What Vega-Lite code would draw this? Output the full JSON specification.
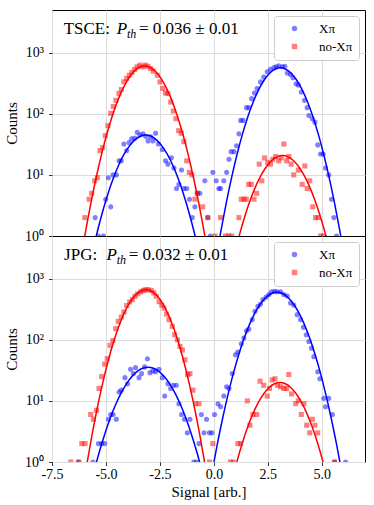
{
  "$schema": "https://vega.github.io/schema/vega-lite/v6.json",
  "padding": {"left": 4, "right": 10, "top": 9, "bottom": 2},
  "spacing": 0,
  "bounds": "flush",
  "config": {
    "font": "Liberation Serif",
    "view": {"stroke": "#000000", "strokeWidth": 1},
    "axis": {"gridColor": "#dcdcdc", "gridWidth": 1, "tickColor": "#000000", "tickSize": 3.5, "tickWidth": 0.8, "domain": false, "labelFont": "Liberation Serif", "labelFontSize": 14, "labelColor": "#000000", "titleFont": "Liberation Serif", "titleFontSize": 15, "titleFontWeight": "normal", "titleColor": "#000000", "labelFlush": false},
    "axisY": {"labelPadding": 5, "titlePadding": 5},
    "axisX": {"labelPadding": 2, "titlePadding": 3}
  },
  "resolve": {"scale": {"color": "independent", "shape": "independent"}, "legend": {"color": "independent", "shape": "independent"}},
  "datasets": {
    "pts": [
      {"panel":"TSCE","series":"Xπ","x":-5.50,"y":2},{"panel":"TSCE","series":"Xπ","x":-5.35,"y":1},{"panel":"TSCE","series":"Xπ","x":-5.12,"y":1},{"panel":"TSCE","series":"Xπ","x":-5.01,"y":4},{"panel":"TSCE","series":"Xπ","x":-4.89,"y":9},{"panel":"TSCE","series":"Xπ","x":-4.78,"y":3},{"panel":"TSCE","series":"Xπ","x":-4.67,"y":10},{"panel":"TSCE","series":"Xπ","x":-4.52,"y":10},{"panel":"TSCE","series":"Xπ","x":-4.39,"y":17},{"panel":"TSCE","series":"Xπ","x":-4.29,"y":17},{"panel":"TSCE","series":"Xπ","x":-4.17,"y":32},{"panel":"TSCE","series":"Xπ","x":-4.04,"y":25},{"panel":"TSCE","series":"Xπ","x":-3.93,"y":34},{"panel":"TSCE","series":"Xπ","x":-3.81,"y":39},{"panel":"TSCE","series":"Xπ","x":-3.67,"y":40},{"panel":"TSCE","series":"Xπ","x":-3.55,"y":50},{"panel":"TSCE","series":"Xπ","x":-3.43,"y":45},{"panel":"TSCE","series":"Xπ","x":-3.29,"y":47},{"panel":"TSCE","series":"Xπ","x":-3.16,"y":43},{"panel":"TSCE","series":"Xπ","x":-3.05,"y":36},{"panel":"TSCE","series":"Xπ","x":-2.93,"y":42},{"panel":"TSCE","series":"Xπ","x":-2.82,"y":36},{"panel":"TSCE","series":"Xπ","x":-2.70,"y":48},{"panel":"TSCE","series":"Xπ","x":-2.57,"y":32},{"panel":"TSCE","series":"Xπ","x":-2.39,"y":26},{"panel":"TSCE","series":"Xπ","x":-2.24,"y":17},{"panel":"TSCE","series":"Xπ","x":-2.13,"y":15},{"panel":"TSCE","series":"Xπ","x":-1.97,"y":19},{"panel":"TSCE","series":"Xπ","x":-1.85,"y":13},{"panel":"TSCE","series":"Xπ","x":-1.73,"y":6},{"panel":"TSCE","series":"Xπ","x":-1.62,"y":7},{"panel":"TSCE","series":"Xπ","x":-1.50,"y":12},{"panel":"TSCE","series":"Xπ","x":-1.39,"y":6},{"panel":"TSCE","series":"Xπ","x":-1.26,"y":6},{"panel":"TSCE","series":"Xπ","x":-1.13,"y":4},{"panel":"TSCE","series":"Xπ","x":-1.00,"y":2},{"panel":"TSCE","series":"Xπ","x":-0.88,"y":3},{"panel":"TSCE","series":"Xπ","x":-0.77,"y":5},{"panel":"TSCE","series":"Xπ","x":-0.65,"y":5},{"panel":"TSCE","series":"Xπ","x":-0.42,"y":8},{"panel":"TSCE","series":"Xπ","x":-0.28,"y":2},{"panel":"TSCE","series":"Xπ","x":-0.17,"y":1},{"panel":"TSCE","series":"Xπ","x":-0.05,"y":11},{"panel":"TSCE","series":"Xπ","x":0.11,"y":8},{"panel":"TSCE","series":"Xπ","x":0.23,"y":6},{"panel":"TSCE","series":"Xπ","x":0.31,"y":6},{"panel":"TSCE","series":"Xπ","x":0.46,"y":8},{"panel":"TSCE","series":"Xπ","x":0.59,"y":11},{"panel":"TSCE","series":"Xπ","x":0.70,"y":18},{"panel":"TSCE","series":"Xπ","x":0.80,"y":24},{"panel":"TSCE","series":"Xπ","x":0.93,"y":24},{"panel":"TSCE","series":"Xπ","x":1.05,"y":30},{"panel":"TSCE","series":"Xπ","x":1.16,"y":47},{"panel":"TSCE","series":"Xπ","x":1.24,"y":78},{"panel":"TSCE","series":"Xπ","x":1.35,"y":78},{"panel":"TSCE","series":"Xπ","x":1.51,"y":126},{"panel":"TSCE","series":"Xπ","x":1.62,"y":126},{"panel":"TSCE","series":"Xπ","x":1.75,"y":177},{"panel":"TSCE","series":"Xπ","x":1.88,"y":219},{"panel":"TSCE","series":"Xπ","x":2.00,"y":260},{"panel":"TSCE","series":"Xπ","x":2.16,"y":333},{"panel":"TSCE","series":"Xπ","x":2.31,"y":400},{"panel":"TSCE","series":"Xπ","x":2.47,"y":488},{"panel":"TSCE","series":"Xπ","x":2.62,"y":537},{"panel":"TSCE","series":"Xπ","x":2.78,"y":574},{"panel":"TSCE","series":"Xπ","x":2.89,"y":590},{"panel":"TSCE","series":"Xπ","x":3.01,"y":610},{"panel":"TSCE","series":"Xπ","x":3.17,"y":590},{"panel":"TSCE","series":"Xπ","x":3.29,"y":600},{"panel":"TSCE","series":"Xπ","x":3.40,"y":466},{"panel":"TSCE","series":"Xπ","x":3.55,"y":440},{"panel":"TSCE","series":"Xπ","x":3.66,"y":390},{"panel":"TSCE","series":"Xπ","x":3.81,"y":311},{"panel":"TSCE","series":"Xπ","x":3.91,"y":295},{"panel":"TSCE","series":"Xπ","x":4.05,"y":228},{"panel":"TSCE","series":"Xπ","x":4.20,"y":166},{"panel":"TSCE","series":"Xπ","x":4.32,"y":126},{"panel":"TSCE","series":"Xπ","x":4.40,"y":94},{"panel":"TSCE","series":"Xπ","x":4.56,"y":83},{"panel":"TSCE","series":"Xπ","x":4.68,"y":73},{"panel":"TSCE","series":"Xπ","x":4.81,"y":31},{"panel":"TSCE","series":"Xπ","x":4.94,"y":22},{"panel":"TSCE","series":"Xπ","x":5.06,"y":22},{"panel":"TSCE","series":"Xπ","x":5.17,"y":13},{"panel":"TSCE","series":"Xπ","x":5.32,"y":10},{"panel":"TSCE","series":"Xπ","x":5.45,"y":4},{"panel":"TSCE","series":"Xπ","x":5.56,"y":2},{"panel":"TSCE","series":"Xπ","x":5.68,"y":1},
      {"panel":"TSCE","series":"no-Xπ","x":-5.98,"y":2},{"panel":"TSCE","series":"no-Xπ","x":-5.78,"y":4},{"panel":"TSCE","series":"no-Xπ","x":-5.66,"y":5},{"panel":"TSCE","series":"no-Xπ","x":-5.52,"y":8},{"panel":"TSCE","series":"no-Xπ","x":-5.40,"y":9},{"panel":"TSCE","series":"no-Xπ","x":-5.28,"y":25},{"panel":"TSCE","series":"no-Xπ","x":-5.15,"y":28},{"panel":"TSCE","series":"no-Xπ","x":-5.03,"y":44},{"panel":"TSCE","series":"no-Xπ","x":-4.91,"y":64},{"panel":"TSCE","series":"no-Xπ","x":-4.78,"y":102},{"panel":"TSCE","series":"no-Xπ","x":-4.66,"y":132},{"panel":"TSCE","series":"no-Xπ","x":-4.54,"y":166},{"panel":"TSCE","series":"no-Xπ","x":-4.40,"y":214},{"panel":"TSCE","series":"no-Xπ","x":-4.29,"y":250},{"panel":"TSCE","series":"no-Xπ","x":-4.17,"y":333},{"panel":"TSCE","series":"no-Xπ","x":-4.04,"y":378},{"panel":"TSCE","series":"no-Xπ","x":-3.92,"y":428},{"panel":"TSCE","series":"no-Xπ","x":-3.80,"y":475},{"panel":"TSCE","series":"no-Xπ","x":-3.67,"y":534},{"panel":"TSCE","series":"no-Xπ","x":-3.55,"y":587},{"panel":"TSCE","series":"no-Xπ","x":-3.43,"y":626},{"panel":"TSCE","series":"no-Xπ","x":-3.30,"y":587},{"panel":"TSCE","series":"no-Xπ","x":-3.18,"y":626},{"panel":"TSCE","series":"no-Xπ","x":-3.06,"y":600},{"panel":"TSCE","series":"no-Xπ","x":-2.93,"y":550},{"panel":"TSCE","series":"no-Xπ","x":-2.81,"y":500},{"panel":"TSCE","series":"no-Xπ","x":-2.62,"y":427},{"panel":"TSCE","series":"no-Xπ","x":-2.50,"y":333},{"panel":"TSCE","series":"no-Xπ","x":-2.37,"y":260},{"panel":"TSCE","series":"no-Xπ","x":-2.24,"y":219},{"panel":"TSCE","series":"no-Xπ","x":-2.13,"y":214},{"panel":"TSCE","series":"no-Xπ","x":-2.00,"y":156},{"panel":"TSCE","series":"no-Xπ","x":-1.88,"y":111},{"panel":"TSCE","series":"no-Xπ","x":-1.76,"y":83},{"panel":"TSCE","series":"no-Xπ","x":-1.63,"y":53},{"panel":"TSCE","series":"no-Xπ","x":-1.51,"y":48},{"panel":"TSCE","series":"no-Xπ","x":-1.39,"y":35},{"panel":"TSCE","series":"no-Xπ","x":-1.26,"y":17},{"panel":"TSCE","series":"no-Xπ","x":-1.14,"y":11},{"panel":"TSCE","series":"no-Xπ","x":-1.02,"y":10},{"panel":"TSCE","series":"no-Xπ","x":-0.88,"y":4},{"panel":"TSCE","series":"no-Xπ","x":-0.77,"y":5},{"panel":"TSCE","series":"no-Xπ","x":-0.52,"y":3},{"panel":"TSCE","series":"no-Xπ","x":-0.28,"y":2},{"panel":"TSCE","series":"no-Xπ","x":0.05,"y":1},{"panel":"TSCE","series":"no-Xπ","x":0.31,"y":2},{"panel":"TSCE","series":"no-Xπ","x":0.54,"y":1},{"panel":"TSCE","series":"no-Xπ","x":0.68,"y":1},{"panel":"TSCE","series":"no-Xπ","x":0.82,"y":1},{"panel":"TSCE","series":"no-Xπ","x":1.16,"y":2},{"panel":"TSCE","series":"no-Xπ","x":1.27,"y":4},{"panel":"TSCE","series":"no-Xπ","x":1.39,"y":4},{"panel":"TSCE","series":"no-Xπ","x":1.50,"y":4},{"panel":"TSCE","series":"no-Xπ","x":1.61,"y":7},{"panel":"TSCE","series":"no-Xπ","x":1.73,"y":7},{"panel":"TSCE","series":"no-Xπ","x":1.86,"y":4},{"panel":"TSCE","series":"no-Xπ","x":1.98,"y":5},{"panel":"TSCE","series":"no-Xπ","x":2.10,"y":15},{"panel":"TSCE","series":"no-Xπ","x":2.22,"y":8},{"panel":"TSCE","series":"no-Xπ","x":2.35,"y":19},{"panel":"TSCE","series":"no-Xπ","x":2.49,"y":16},{"panel":"TSCE","series":"no-Xπ","x":2.62,"y":15},{"panel":"TSCE","series":"no-Xπ","x":2.73,"y":18},{"panel":"TSCE","series":"no-Xπ","x":2.86,"y":20},{"panel":"TSCE","series":"no-Xπ","x":3.00,"y":17},{"panel":"TSCE","series":"no-Xπ","x":3.12,"y":19},{"panel":"TSCE","series":"no-Xπ","x":3.24,"y":32},{"panel":"TSCE","series":"no-Xπ","x":3.37,"y":17},{"panel":"TSCE","series":"no-Xπ","x":3.47,"y":20},{"panel":"TSCE","series":"no-Xπ","x":3.58,"y":15},{"panel":"TSCE","series":"no-Xπ","x":3.70,"y":10},{"panel":"TSCE","series":"no-Xπ","x":3.91,"y":12},{"panel":"TSCE","series":"no-Xπ","x":4.09,"y":7},{"panel":"TSCE","series":"no-Xπ","x":4.21,"y":14},{"panel":"TSCE","series":"no-Xπ","x":4.32,"y":6},{"panel":"TSCE","series":"no-Xπ","x":4.44,"y":8},{"panel":"TSCE","series":"no-Xπ","x":4.58,"y":3},{"panel":"TSCE","series":"no-Xπ","x":4.71,"y":2},{"panel":"TSCE","series":"no-Xπ","x":4.83,"y":2},{"panel":"TSCE","series":"no-Xπ","x":4.95,"y":1},{"panel":"TSCE","series":"no-Xπ","x":5.08,"y":1},
      {"panel":"JPG","series":"Xπ","x":-6.29,"y":1},{"panel":"JPG","series":"Xπ","x":-5.60,"y":1},{"panel":"JPG","series":"Xπ","x":-5.35,"y":2},{"panel":"JPG","series":"Xπ","x":-5.20,"y":2},{"panel":"JPG","series":"Xπ","x":-5.06,"y":2},{"panel":"JPG","series":"Xπ","x":-4.89,"y":5},{"panel":"JPG","series":"Xπ","x":-4.78,"y":6},{"panel":"JPG","series":"Xπ","x":-4.67,"y":6},{"panel":"JPG","series":"Xπ","x":-4.52,"y":5},{"panel":"JPG","series":"Xπ","x":-4.39,"y":14},{"panel":"JPG","series":"Xπ","x":-4.29,"y":15},{"panel":"JPG","series":"Xπ","x":-4.12,"y":24},{"panel":"JPG","series":"Xπ","x":-4.00,"y":19},{"panel":"JPG","series":"Xπ","x":-3.86,"y":33},{"panel":"JPG","series":"Xπ","x":-3.73,"y":28},{"panel":"JPG","series":"Xπ","x":-3.63,"y":35},{"panel":"JPG","series":"Xπ","x":-3.47,"y":24},{"panel":"JPG","series":"Xπ","x":-3.35,"y":28},{"panel":"JPG","series":"Xπ","x":-3.21,"y":36},{"panel":"JPG","series":"Xπ","x":-3.08,"y":49},{"panel":"JPG","series":"Xπ","x":-2.96,"y":29},{"panel":"JPG","series":"Xπ","x":-2.82,"y":31},{"panel":"JPG","series":"Xπ","x":-2.70,"y":30},{"panel":"JPG","series":"Xπ","x":-2.55,"y":33},{"panel":"JPG","series":"Xπ","x":-2.39,"y":24},{"panel":"JPG","series":"Xπ","x":-2.28,"y":12},{"panel":"JPG","series":"Xπ","x":-2.13,"y":19},{"panel":"JPG","series":"Xπ","x":-2.00,"y":16},{"panel":"JPG","series":"Xπ","x":-1.88,"y":18},{"panel":"JPG","series":"Xπ","x":-1.74,"y":18},{"panel":"JPG","series":"Xπ","x":-1.62,"y":9},{"panel":"JPG","series":"Xπ","x":-1.50,"y":6},{"panel":"JPG","series":"Xπ","x":-1.36,"y":5},{"panel":"JPG","series":"Xπ","x":-1.23,"y":3},{"panel":"JPG","series":"Xπ","x":-1.11,"y":5},{"panel":"JPG","series":"Xπ","x":-0.93,"y":1},{"panel":"JPG","series":"Xπ","x":-0.81,"y":1},{"panel":"JPG","series":"Xπ","x":-0.69,"y":2},{"panel":"JPG","series":"Xπ","x":-0.58,"y":6},{"panel":"JPG","series":"Xπ","x":-0.46,"y":3},{"panel":"JPG","series":"Xπ","x":-0.34,"y":5},{"panel":"JPG","series":"Xπ","x":-0.21,"y":3},{"panel":"JPG","series":"Xπ","x":-0.09,"y":3},{"panel":"JPG","series":"Xπ","x":0.03,"y":6},{"panel":"JPG","series":"Xπ","x":0.19,"y":9},{"panel":"JPG","series":"Xπ","x":0.31,"y":8},{"panel":"JPG","series":"Xπ","x":0.46,"y":12},{"panel":"JPG","series":"Xπ","x":0.59,"y":17},{"panel":"JPG","series":"Xπ","x":0.70,"y":16},{"panel":"JPG","series":"Xπ","x":0.85,"y":28},{"panel":"JPG","series":"Xπ","x":1.00,"y":57},{"panel":"JPG","series":"Xπ","x":1.11,"y":63},{"panel":"JPG","series":"Xπ","x":1.27,"y":86},{"panel":"JPG","series":"Xπ","x":1.39,"y":107},{"panel":"JPG","series":"Xπ","x":1.51,"y":141},{"panel":"JPG","series":"Xπ","x":1.62,"y":150},{"panel":"JPG","series":"Xπ","x":1.78,"y":214},{"panel":"JPG","series":"Xπ","x":1.90,"y":293},{"panel":"JPG","series":"Xπ","x":2.04,"y":355},{"panel":"JPG","series":"Xπ","x":2.16,"y":386},{"panel":"JPG","series":"Xπ","x":2.27,"y":456},{"panel":"JPG","series":"Xπ","x":2.42,"y":500},{"panel":"JPG","series":"Xπ","x":2.55,"y":550},{"panel":"JPG","series":"Xπ","x":2.67,"y":610},{"panel":"JPG","series":"Xπ","x":2.81,"y":625},{"panel":"JPG","series":"Xπ","x":2.93,"y":610},{"panel":"JPG","series":"Xπ","x":3.09,"y":610},{"panel":"JPG","series":"Xπ","x":3.24,"y":550},{"panel":"JPG","series":"Xπ","x":3.40,"y":520},{"panel":"JPG","series":"Xπ","x":3.55,"y":400},{"panel":"JPG","series":"Xπ","x":3.70,"y":370},{"panel":"JPG","series":"Xπ","x":3.86,"y":258},{"panel":"JPG","series":"Xπ","x":4.01,"y":214},{"panel":"JPG","series":"Xπ","x":4.15,"y":160},{"panel":"JPG","series":"Xπ","x":4.28,"y":121},{"panel":"JPG","series":"Xπ","x":4.40,"y":94},{"panel":"JPG","series":"Xπ","x":4.52,"y":73},{"panel":"JPG","series":"Xπ","x":4.63,"y":53},{"panel":"JPG","series":"Xπ","x":4.81,"y":30},{"panel":"JPG","series":"Xπ","x":4.91,"y":23},{"panel":"JPG","series":"Xπ","x":5.09,"y":11},{"panel":"JPG","series":"Xπ","x":5.17,"y":8},{"panel":"JPG","series":"Xπ","x":5.32,"y":11},{"panel":"JPG","series":"Xπ","x":5.49,"y":6},{"panel":"JPG","series":"Xπ","x":5.59,"y":1},{"panel":"JPG","series":"Xπ","x":6.10,"y":1},
      {"panel":"JPG","series":"no-Xπ","x":-6.63,"y":1},{"panel":"JPG","series":"no-Xπ","x":-6.25,"y":1},{"panel":"JPG","series":"no-Xπ","x":-6.12,"y":2},{"panel":"JPG","series":"no-Xπ","x":-5.97,"y":2},{"panel":"JPG","series":"no-Xπ","x":-5.71,"y":6},{"panel":"JPG","series":"no-Xπ","x":-5.58,"y":5},{"panel":"JPG","series":"no-Xπ","x":-5.44,"y":7},{"panel":"JPG","series":"no-Xπ","x":-5.32,"y":16},{"panel":"JPG","series":"no-Xπ","x":-5.20,"y":25},{"panel":"JPG","series":"no-Xπ","x":-5.06,"y":40},{"panel":"JPG","series":"no-Xπ","x":-4.94,"y":49},{"panel":"JPG","series":"no-Xπ","x":-4.81,"y":81},{"panel":"JPG","series":"no-Xπ","x":-4.68,"y":97},{"panel":"JPG","series":"no-Xπ","x":-4.55,"y":152},{"panel":"JPG","series":"no-Xπ","x":-4.43,"y":200},{"panel":"JPG","series":"no-Xπ","x":-4.29,"y":236},{"panel":"JPG","series":"no-Xπ","x":-4.17,"y":286},{"panel":"JPG","series":"no-Xπ","x":-4.04,"y":363},{"panel":"JPG","series":"no-Xπ","x":-3.90,"y":417},{"panel":"JPG","series":"no-Xπ","x":-3.78,"y":456},{"panel":"JPG","series":"no-Xπ","x":-3.66,"y":517},{"panel":"JPG","series":"no-Xπ","x":-3.53,"y":565},{"panel":"JPG","series":"no-Xπ","x":-3.39,"y":610},{"panel":"JPG","series":"no-Xπ","x":-3.27,"y":642},{"panel":"JPG","series":"no-Xπ","x":-3.16,"y":660},{"panel":"JPG","series":"no-Xπ","x":-3.04,"y":660},{"panel":"JPG","series":"no-Xπ","x":-2.90,"y":642},{"panel":"JPG","series":"no-Xπ","x":-2.78,"y":588},{"panel":"JPG","series":"no-Xπ","x":-2.67,"y":517},{"panel":"JPG","series":"no-Xπ","x":-2.54,"y":420},{"panel":"JPG","series":"no-Xπ","x":-2.41,"y":370},{"panel":"JPG","series":"no-Xπ","x":-2.31,"y":331},{"panel":"JPG","series":"no-Xπ","x":-2.19,"y":264},{"panel":"JPG","series":"no-Xπ","x":-2.08,"y":214},{"panel":"JPG","series":"no-Xπ","x":-1.93,"y":166},{"panel":"JPG","series":"no-Xπ","x":-1.82,"y":121},{"panel":"JPG","series":"no-Xπ","x":-1.69,"y":100},{"panel":"JPG","series":"no-Xπ","x":-1.57,"y":78},{"panel":"JPG","series":"no-Xπ","x":-1.46,"y":68},{"panel":"JPG","series":"no-Xπ","x":-1.34,"y":47},{"panel":"JPG","series":"no-Xπ","x":-1.22,"y":27},{"panel":"JPG","series":"no-Xπ","x":-1.11,"y":28},{"panel":"JPG","series":"no-Xπ","x":-0.97,"y":15},{"panel":"JPG","series":"no-Xπ","x":-0.85,"y":9},{"panel":"JPG","series":"no-Xπ","x":-0.69,"y":9},{"panel":"JPG","series":"no-Xπ","x":-0.20,"y":1},{"panel":"JPG","series":"no-Xπ","x":-0.05,"y":2},{"panel":"JPG","series":"no-Xπ","x":0.77,"y":1},{"panel":"JPG","series":"no-Xπ","x":0.90,"y":1},{"panel":"JPG","series":"no-Xπ","x":1.11,"y":2},{"panel":"JPG","series":"no-Xπ","x":1.24,"y":2},{"panel":"JPG","series":"no-Xπ","x":1.55,"y":10},{"panel":"JPG","series":"no-Xπ","x":1.67,"y":4},{"panel":"JPG","series":"no-Xπ","x":1.81,"y":6},{"panel":"JPG","series":"no-Xπ","x":1.98,"y":6},{"panel":"JPG","series":"no-Xπ","x":2.14,"y":21},{"panel":"JPG","series":"no-Xπ","x":2.31,"y":18},{"panel":"JPG","series":"no-Xπ","x":2.47,"y":12},{"panel":"JPG","series":"no-Xπ","x":2.58,"y":16},{"panel":"JPG","series":"no-Xπ","x":2.70,"y":22},{"panel":"JPG","series":"no-Xπ","x":2.83,"y":23},{"panel":"JPG","series":"no-Xπ","x":2.95,"y":18},{"panel":"JPG","series":"no-Xπ","x":3.09,"y":17},{"panel":"JPG","series":"no-Xπ","x":3.24,"y":16},{"panel":"JPG","series":"no-Xπ","x":3.36,"y":16},{"panel":"JPG","series":"no-Xπ","x":3.47,"y":27},{"panel":"JPG","series":"no-Xπ","x":3.60,"y":13},{"panel":"JPG","series":"no-Xπ","x":3.79,"y":9},{"panel":"JPG","series":"no-Xπ","x":3.91,"y":10},{"panel":"JPG","series":"no-Xπ","x":4.05,"y":6},{"panel":"JPG","series":"no-Xπ","x":4.17,"y":9},{"panel":"JPG","series":"no-Xπ","x":4.30,"y":4},{"panel":"JPG","series":"no-Xπ","x":4.44,"y":3},{"panel":"JPG","series":"no-Xπ","x":4.56,"y":5},{"panel":"JPG","series":"no-Xπ","x":4.68,"y":4},{"panel":"JPG","series":"no-Xπ","x":4.81,"y":3},{"panel":"JPG","series":"no-Xπ","x":5.59,"y":1}
    ],
    "fit": [
      {"panel":"TSCE","series":"no-Xπ","curve":"L","x":-6.2,"y":0.35},{"panel":"TSCE","series":"no-Xπ","curve":"L","x":-5.95,"y":1.16},{"panel":"TSCE","series":"no-Xπ","curve":"L","x":-5.7,"y":3.43},{"panel":"TSCE","series":"no-Xπ","curve":"L","x":-5.45,"y":9.15},{"panel":"TSCE","series":"no-Xπ","curve":"L","x":-5.2,"y":22.1},{"panel":"TSCE","series":"no-Xπ","curve":"L","x":-4.95,"y":48},{"panel":"TSCE","series":"no-Xπ","curve":"L","x":-4.7,"y":94},{"panel":"TSCE","series":"no-Xπ","curve":"L","x":-4.45,"y":166},{"panel":"TSCE","series":"no-Xπ","curve":"L","x":-4.2,"y":264},{"panel":"TSCE","series":"no-Xπ","curve":"L","x":-3.95,"y":380},{"panel":"TSCE","series":"no-Xπ","curve":"L","x":-3.7,"y":492},{"panel":"TSCE","series":"no-Xπ","curve":"L","x":-3.45,"y":574},{"panel":"TSCE","series":"no-Xπ","curve":"L","x":-3.2,"y":605},{"panel":"TSCE","series":"no-Xπ","curve":"L","x":-2.95,"y":574},{"panel":"TSCE","series":"no-Xπ","curve":"L","x":-2.7,"y":492},{"panel":"TSCE","series":"no-Xπ","curve":"L","x":-2.45,"y":380},{"panel":"TSCE","series":"no-Xπ","curve":"L","x":-2.2,"y":264},{"panel":"TSCE","series":"no-Xπ","curve":"L","x":-1.95,"y":166},{"panel":"TSCE","series":"no-Xπ","curve":"L","x":-1.7,"y":94},{"panel":"TSCE","series":"no-Xπ","curve":"L","x":-1.45,"y":48},{"panel":"TSCE","series":"no-Xπ","curve":"L","x":-1.2,"y":22.1},{"panel":"TSCE","series":"no-Xπ","curve":"L","x":-0.95,"y":9.15},{"panel":"TSCE","series":"no-Xπ","curve":"L","x":-0.7,"y":3.43},{"panel":"TSCE","series":"no-Xπ","curve":"L","x":-0.45,"y":1.16},{"panel":"TSCE","series":"no-Xπ","curve":"L","x":-0.2,"y":0.35},
      {"panel":"TSCE","series":"Xπ","curve":"L","x":-5.66,"y":0.48},{"panel":"TSCE","series":"Xπ","curve":"L","x":-5.41,"y":1.14},{"panel":"TSCE","series":"Xπ","curve":"L","x":-5.16,"y":2.47},{"panel":"TSCE","series":"Xπ","curve":"L","x":-4.91,"y":4.88},{"panel":"TSCE","series":"Xπ","curve":"L","x":-4.66,"y":8.79},{"panel":"TSCE","series":"Xπ","curve":"L","x":-4.41,"y":14.5},{"panel":"TSCE","series":"Xπ","curve":"L","x":-4.16,"y":21.8},{"panel":"TSCE","series":"Xπ","curve":"L","x":-3.91,"y":29.9},{"panel":"TSCE","series":"Xπ","curve":"L","x":-3.66,"y":37.5},{"panel":"TSCE","series":"Xπ","curve":"L","x":-3.41,"y":43.0},{"panel":"TSCE","series":"Xπ","curve":"L","x":-3.16,"y":45},{"panel":"TSCE","series":"Xπ","curve":"L","x":-2.91,"y":43.0},{"panel":"TSCE","series":"Xπ","curve":"L","x":-2.66,"y":37.5},{"panel":"TSCE","series":"Xπ","curve":"L","x":-2.41,"y":29.9},{"panel":"TSCE","series":"Xπ","curve":"L","x":-2.16,"y":21.8},{"panel":"TSCE","series":"Xπ","curve":"L","x":-1.91,"y":14.5},{"panel":"TSCE","series":"Xπ","curve":"L","x":-1.66,"y":8.79},{"panel":"TSCE","series":"Xπ","curve":"L","x":-1.41,"y":4.88},{"panel":"TSCE","series":"Xπ","curve":"L","x":-1.16,"y":2.47},{"panel":"TSCE","series":"Xπ","curve":"L","x":-0.91,"y":1.14},{"panel":"TSCE","series":"Xπ","curve":"L","x":-0.66,"y":0.48},
      {"panel":"TSCE","series":"Xπ","curve":"R","x":0.08,"y":0.39},{"panel":"TSCE","series":"Xπ","curve":"R","x":0.33,"y":1.24},{"panel":"TSCE","series":"Xπ","curve":"R","x":0.58,"y":3.59},{"panel":"TSCE","series":"Xπ","curve":"R","x":0.83,"y":9.4},{"panel":"TSCE","series":"Xπ","curve":"R","x":1.08,"y":22.2},{"panel":"TSCE","series":"Xπ","curve":"R","x":1.33,"y":47.4},{"panel":"TSCE","series":"Xπ","curve":"R","x":1.58,"y":91.5},{"panel":"TSCE","series":"Xπ","curve":"R","x":1.83,"y":159.5},{"panel":"TSCE","series":"Xπ","curve":"R","x":2.08,"y":251.5},{"panel":"TSCE","series":"Xπ","curve":"R","x":2.33,"y":358},{"panel":"TSCE","series":"Xπ","curve":"R","x":2.58,"y":461.5},{"panel":"TSCE","series":"Xπ","curve":"R","x":2.83,"y":537},{"panel":"TSCE","series":"Xπ","curve":"R","x":3.08,"y":565},{"panel":"TSCE","series":"Xπ","curve":"R","x":3.33,"y":537},{"panel":"TSCE","series":"Xπ","curve":"R","x":3.58,"y":461.5},{"panel":"TSCE","series":"Xπ","curve":"R","x":3.83,"y":358},{"panel":"TSCE","series":"Xπ","curve":"R","x":4.08,"y":251.5},{"panel":"TSCE","series":"Xπ","curve":"R","x":4.33,"y":159.5},{"panel":"TSCE","series":"Xπ","curve":"R","x":4.58,"y":91.5},{"panel":"TSCE","series":"Xπ","curve":"R","x":4.83,"y":47.4},{"panel":"TSCE","series":"Xπ","curve":"R","x":5.08,"y":22.2},{"panel":"TSCE","series":"Xπ","curve":"R","x":5.33,"y":9.4},{"panel":"TSCE","series":"Xπ","curve":"R","x":5.58,"y":3.59},{"panel":"TSCE","series":"Xπ","curve":"R","x":5.83,"y":1.24},{"panel":"TSCE","series":"Xπ","curve":"R","x":6.08,"y":0.39},
      {"panel":"TSCE","series":"no-Xπ","curve":"R","x":0.93,"y":0.467},{"panel":"TSCE","series":"no-Xπ","curve":"R","x":1.18,"y":1.035},{"panel":"TSCE","series":"no-Xπ","curve":"R","x":1.43,"y":2.09},{"panel":"TSCE","series":"no-Xπ","curve":"R","x":1.68,"y":3.84},{"panel":"TSCE","series":"no-Xπ","curve":"R","x":1.93,"y":6.42},{"panel":"TSCE","series":"no-Xπ","curve":"R","x":2.18,"y":9.79},{"panel":"TSCE","series":"no-Xπ","curve":"R","x":2.43,"y":13.6},{"panel":"TSCE","series":"no-Xπ","curve":"R","x":2.68,"y":17.2},{"panel":"TSCE","series":"no-Xπ","curve":"R","x":2.93,"y":19.75},{"panel":"TSCE","series":"no-Xπ","curve":"R","x":3.18,"y":20.7},{"panel":"TSCE","series":"no-Xπ","curve":"R","x":3.43,"y":19.75},{"panel":"TSCE","series":"no-Xπ","curve":"R","x":3.68,"y":17.2},{"panel":"TSCE","series":"no-Xπ","curve":"R","x":3.93,"y":13.6},{"panel":"TSCE","series":"no-Xπ","curve":"R","x":4.18,"y":9.79},{"panel":"TSCE","series":"no-Xπ","curve":"R","x":4.43,"y":6.42},{"panel":"TSCE","series":"no-Xπ","curve":"R","x":4.68,"y":3.84},{"panel":"TSCE","series":"no-Xπ","curve":"R","x":4.93,"y":2.09},{"panel":"TSCE","series":"no-Xπ","curve":"R","x":5.18,"y":1.035},{"panel":"TSCE","series":"no-Xπ","curve":"R","x":5.43,"y":0.467},
      {"panel":"JPG","series":"no-Xπ","curve":"L","x":-5.9,"y":0.86},{"panel":"JPG","series":"no-Xπ","curve":"L","x":-5.65,"y":2.73},{"panel":"JPG","series":"no-Xπ","curve":"L","x":-5.4,"y":7.75},{"panel":"JPG","series":"no-Xπ","curve":"L","x":-5.15,"y":19.7},{"panel":"JPG","series":"no-Xπ","curve":"L","x":-4.9,"y":45},{"panel":"JPG","series":"no-Xπ","curve":"L","x":-4.65,"y":91.9},{"panel":"JPG","series":"no-Xπ","curve":"L","x":-4.4,"y":168},{"panel":"JPG","series":"no-Xπ","curve":"L","x":-4.15,"y":276},{"panel":"JPG","series":"no-Xπ","curve":"L","x":-3.9,"y":405},{"panel":"JPG","series":"no-Xπ","curve":"L","x":-3.65,"y":534},{"panel":"JPG","series":"no-Xπ","curve":"L","x":-3.4,"y":629},{"panel":"JPG","series":"no-Xπ","curve":"L","x":-3.15,"y":665},{"panel":"JPG","series":"no-Xπ","curve":"L","x":-2.9,"y":629},{"panel":"JPG","series":"no-Xπ","curve":"L","x":-2.65,"y":534},{"panel":"JPG","series":"no-Xπ","curve":"L","x":-2.4,"y":405},{"panel":"JPG","series":"no-Xπ","curve":"L","x":-2.15,"y":276},{"panel":"JPG","series":"no-Xπ","curve":"L","x":-1.9,"y":168},{"panel":"JPG","series":"no-Xπ","curve":"L","x":-1.65,"y":91.9},{"panel":"JPG","series":"no-Xπ","curve":"L","x":-1.4,"y":45},{"panel":"JPG","series":"no-Xπ","curve":"L","x":-1.15,"y":19.7},{"panel":"JPG","series":"no-Xπ","curve":"L","x":-0.9,"y":7.75},{"panel":"JPG","series":"no-Xπ","curve":"L","x":-0.65,"y":2.73},{"panel":"JPG","series":"no-Xπ","curve":"L","x":-0.4,"y":0.86},
      {"panel":"JPG","series":"Xπ","curve":"L","x":-5.55,"y":0.71},{"panel":"JPG","series":"Xπ","curve":"L","x":-5.3,"y":1.5},{"panel":"JPG","series":"Xπ","curve":"L","x":-5.05,"y":2.91},{"panel":"JPG","series":"Xπ","curve":"L","x":-4.8,"y":5.24},{"panel":"JPG","series":"Xπ","curve":"L","x":-4.55,"y":8.71},{"panel":"JPG","series":"Xπ","curve":"L","x":-4.3,"y":13.4},{"panel":"JPG","series":"Xπ","curve":"L","x":-4.05,"y":19.0},{"panel":"JPG","series":"Xπ","curve":"L","x":-3.8,"y":25.0},{"panel":"JPG","series":"Xπ","curve":"L","x":-3.55,"y":30.4},{"panel":"JPG","series":"Xπ","curve":"L","x":-3.3,"y":34.2},{"panel":"JPG","series":"Xπ","curve":"L","x":-3.05,"y":35.6},{"panel":"JPG","series":"Xπ","curve":"L","x":-2.8,"y":34.2},{"panel":"JPG","series":"Xπ","curve":"L","x":-2.55,"y":30.4},{"panel":"JPG","series":"Xπ","curve":"L","x":-2.3,"y":25.0},{"panel":"JPG","series":"Xπ","curve":"L","x":-2.05,"y":19.0},{"panel":"JPG","series":"Xπ","curve":"L","x":-1.8,"y":13.4},{"panel":"JPG","series":"Xπ","curve":"L","x":-1.55,"y":8.71},{"panel":"JPG","series":"Xπ","curve":"L","x":-1.3,"y":5.24},{"panel":"JPG","series":"Xπ","curve":"L","x":-1.05,"y":2.91},{"panel":"JPG","series":"Xπ","curve":"L","x":-0.8,"y":1.5},{"panel":"JPG","series":"Xπ","curve":"L","x":-0.55,"y":0.71},
      {"panel":"JPG","series":"Xπ","curve":"R","x":-0.08,"y":0.7},{"panel":"JPG","series":"Xπ","curve":"R","x":0.17,"y":2.05},{"panel":"JPG","series":"Xπ","curve":"R","x":0.42,"y":5.5},{"panel":"JPG","series":"Xπ","curve":"R","x":0.67,"y":13.4},{"panel":"JPG","series":"Xπ","curve":"R","x":0.92,"y":29.8},{"panel":"JPG","series":"Xπ","curve":"R","x":1.17,"y":60.2},{"panel":"JPG","series":"Xπ","curve":"R","x":1.42,"y":110.8},{"panel":"JPG","series":"Xπ","curve":"R","x":1.67,"y":185.6},{"panel":"JPG","series":"Xπ","curve":"R","x":1.92,"y":283},{"panel":"JPG","series":"Xπ","curve":"R","x":2.17,"y":393},{"panel":"JPG","series":"Xπ","curve":"R","x":2.42,"y":497},{"panel":"JPG","series":"Xπ","curve":"R","x":2.67,"y":572.5},{"panel":"JPG","series":"Xπ","curve":"R","x":2.92,"y":600},{"panel":"JPG","series":"Xπ","curve":"R","x":3.17,"y":572.5},{"panel":"JPG","series":"Xπ","curve":"R","x":3.42,"y":497},{"panel":"JPG","series":"Xπ","curve":"R","x":3.67,"y":393},{"panel":"JPG","series":"Xπ","curve":"R","x":3.92,"y":283},{"panel":"JPG","series":"Xπ","curve":"R","x":4.17,"y":185.6},{"panel":"JPG","series":"Xπ","curve":"R","x":4.42,"y":110.8},{"panel":"JPG","series":"Xπ","curve":"R","x":4.67,"y":60.2},{"panel":"JPG","series":"Xπ","curve":"R","x":4.92,"y":29.8},{"panel":"JPG","series":"Xπ","curve":"R","x":5.17,"y":13.4},{"panel":"JPG","series":"Xπ","curve":"R","x":5.42,"y":5.5},{"panel":"JPG","series":"Xπ","curve":"R","x":5.67,"y":2.05},{"panel":"JPG","series":"Xπ","curve":"R","x":5.92,"y":0.7},
      {"panel":"JPG","series":"no-Xπ","curve":"R","x":0.81,"y":0.447},{"panel":"JPG","series":"no-Xπ","curve":"R","x":1.06,"y":0.99},{"panel":"JPG","series":"no-Xπ","curve":"R","x":1.31,"y":2.01},{"panel":"JPG","series":"no-Xπ","curve":"R","x":1.56,"y":3.69},{"panel":"JPG","series":"no-Xπ","curve":"R","x":1.81,"y":6.19},{"panel":"JPG","series":"no-Xπ","curve":"R","x":2.06,"y":9.44},{"panel":"JPG","series":"no-Xπ","curve":"R","x":2.31,"y":13.11},{"panel":"JPG","series":"no-Xπ","curve":"R","x":2.56,"y":16.58},{"panel":"JPG","series":"no-Xπ","curve":"R","x":2.81,"y":19.08},{"panel":"JPG","series":"no-Xπ","curve":"R","x":3.06,"y":20},{"panel":"JPG","series":"no-Xπ","curve":"R","x":3.31,"y":19.08},{"panel":"JPG","series":"no-Xπ","curve":"R","x":3.56,"y":16.58},{"panel":"JPG","series":"no-Xπ","curve":"R","x":3.81,"y":13.11},{"panel":"JPG","series":"no-Xπ","curve":"R","x":4.06,"y":9.44},{"panel":"JPG","series":"no-Xπ","curve":"R","x":4.31,"y":6.19},{"panel":"JPG","series":"no-Xπ","curve":"R","x":4.56,"y":3.69},{"panel":"JPG","series":"no-Xπ","curve":"R","x":4.81,"y":2.01},{"panel":"JPG","series":"no-Xπ","curve":"R","x":5.06,"y":0.99},{"panel":"JPG","series":"no-Xπ","curve":"R","x":5.31,"y":0.447}
    ],
    "ann": [
      {"panel":"TSCE","part":"head","label":"TSCE:","x":-6.96,"y":2000},
      {"panel":"TSCE","part":"P","label":"P","x":-4.50,"y":2000},
      {"panel":"TSCE","part":"sub","label":"th","x":-4.03,"y":1760},
      {"panel":"TSCE","part":"rest","label":"= 0.036 ± 0.01","x":-3.47,"y":2000},
      {"panel":"JPG","part":"head","label":"JPG:","x":-6.94,"y":2000},
      {"panel":"JPG","part":"P","label":"P","x":-4.97,"y":2000},
      {"panel":"JPG","part":"sub","label":"th","x":-4.50,"y":1760},
      {"panel":"JPG","part":"rest","label":"= 0.032 ± 0.01","x":-3.95,"y":2000}
    ]
  },
  "vconcat": [
    {
      "width": 313, "height": 226,
      "encoding": {
        "x": {"field": "x", "type": "quantitative", "scale": {"domain": [-7.5, 7], "nice": false, "zero": false}, "axis": {"values": [-7.5, -5, -2.5, 0, 2.5, 5], "labels": false, "ticks": false, "title": null, "grid": true, "minExtent": 0, "maxExtent": 0, "offset": 0}},
        "y": {"field": "y", "type": "quantitative", "scale": {"type": "log", "domain": [1, 5000], "nice": false}, "axis": {"values": [1, 10, 100, 1000], "title": "Counts", "grid": true, "labelExpr": "datum.value === 1 ? '10⁰' : datum.value === 10 ? '10¹' : datum.value === 100 ? '10²' : '10³'"}}
      },
      "layer": [
        {
          "data": {"name": "pts"},
          "transform": [{"filter": "datum.panel === 'TSCE'"}],
          "mark": {"type": "point", "filled": true, "opacity": 0.5, "size": 26, "clip": true},
          "encoding": {
            "color": {"field": "series", "type": "nominal", "scale": {"domain": ["Xπ", "no-Xπ"], "range": ["#0000ff", "#ff0000"]}, "legend": {"title": null, "orient": "top-right", "offset": 6, "fillColor": "#ffffff", "strokeColor": "#cccccc", "cornerRadius": 3, "padding": 6, "labelFont": "Liberation Serif", "labelFontSize": 13, "labelColor": "#000000", "symbolSize": 30, "labelOffset": 18, "symbolOffset": 8, "rowPadding": 4}},
            "shape": {"field": "series", "type": "nominal", "scale": {"domain": ["Xπ", "no-Xπ"], "range": ["circle", "square"]}}
          }
        },
        {
          "data": {"name": "fit"},
          "transform": [{"filter": "datum.panel === 'TSCE'"}],
          "mark": {"type": "line", "clip": true, "strokeWidth": 1.5, "interpolate": "monotone"},
          "encoding": {
            "detail": {"field": "curve", "type": "nominal"},
            "stroke": {"field": "series", "type": "nominal", "scale": {"domain": ["Xπ", "no-Xπ"], "range": ["#0000ff", "#ff0000"]}, "legend": null}
          }
        },
        {
          "data": {"name": "ann"},
          "transform": [{"filter": "datum.panel === 'TSCE' && datum.part !== 'sub' && datum.part !== 'P'"}],
          "mark": {"type": "text", "align": "left", "baseline": "alphabetic", "fontSize": 17, "font": "Liberation Serif", "color": "#000000"},
          "encoding": {"text": {"field": "label"}}
        },
        {
          "data": {"name": "ann"},
          "transform": [{"filter": "datum.panel === 'TSCE' && datum.part === 'P'"}],
          "mark": {"type": "text", "align": "left", "baseline": "alphabetic", "fontSize": 17, "fontStyle": "italic", "font": "Liberation Serif", "color": "#000000"},
          "encoding": {"text": {"field": "label"}}
        },
        {
          "data": {"name": "ann"},
          "transform": [{"filter": "datum.panel === 'TSCE' && datum.part === 'sub'"}],
          "mark": {"type": "text", "align": "left", "baseline": "alphabetic", "fontSize": 12, "fontStyle": "italic", "font": "Liberation Serif", "color": "#000000"},
          "encoding": {"text": {"field": "label"}}
        }
      ]
    },
    {
      "width": 313, "height": 226,
      "encoding": {
        "x": {"field": "x", "type": "quantitative", "scale": {"domain": [-7.5, 7], "nice": false, "zero": false}, "axis": {"values": [-7.5, -5, -2.5, 0, 2.5, 5], "title": "Signal [arb.]", "grid": true, "labelExpr": "replace(format(datum.value, '.1f'), '−', '-')"}},
        "y": {"field": "y", "type": "quantitative", "scale": {"type": "log", "domain": [1, 5000], "nice": false}, "axis": {"values": [1, 10, 100, 1000], "title": "Counts", "grid": true, "labelExpr": "datum.value === 1 ? '10⁰' : datum.value === 10 ? '10¹' : datum.value === 100 ? '10²' : '10³'"}}
      },
      "layer": [
        {
          "data": {"name": "pts"},
          "transform": [{"filter": "datum.panel === 'JPG'"}],
          "mark": {"type": "point", "filled": true, "opacity": 0.5, "size": 26, "clip": true},
          "encoding": {
            "color": {"field": "series", "type": "nominal", "scale": {"domain": ["Xπ", "no-Xπ"], "range": ["#0000ff", "#ff0000"]}, "legend": {"title": null, "orient": "top-right", "offset": 6, "fillColor": "#ffffff", "strokeColor": "#cccccc", "cornerRadius": 3, "padding": 6, "labelFont": "Liberation Serif", "labelFontSize": 13, "labelColor": "#000000", "symbolSize": 30, "labelOffset": 18, "symbolOffset": 8, "rowPadding": 4}},
            "shape": {"field": "series", "type": "nominal", "scale": {"domain": ["Xπ", "no-Xπ"], "range": ["circle", "square"]}}
          }
        },
        {
          "data": {"name": "fit"},
          "transform": [{"filter": "datum.panel === 'JPG'"}],
          "mark": {"type": "line", "clip": true, "strokeWidth": 1.5, "interpolate": "monotone"},
          "encoding": {
            "detail": {"field": "curve", "type": "nominal"},
            "stroke": {"field": "series", "type": "nominal", "scale": {"domain": ["Xπ", "no-Xπ"], "range": ["#0000ff", "#ff0000"]}, "legend": null}
          }
        },
        {
          "data": {"name": "ann"},
          "transform": [{"filter": "datum.panel === 'JPG' && datum.part !== 'sub' && datum.part !== 'P'"}],
          "mark": {"type": "text", "align": "left", "baseline": "alphabetic", "fontSize": 17, "font": "Liberation Serif", "color": "#000000"},
          "encoding": {"text": {"field": "label"}}
        },
        {
          "data": {"name": "ann"},
          "transform": [{"filter": "datum.panel === 'JPG' && datum.part === 'P'"}],
          "mark": {"type": "text", "align": "left", "baseline": "alphabetic", "fontSize": 17, "fontStyle": "italic", "font": "Liberation Serif", "color": "#000000"},
          "encoding": {"text": {"field": "label"}}
        },
        {
          "data": {"name": "ann"},
          "transform": [{"filter": "datum.panel === 'JPG' && datum.part === 'sub'"}],
          "mark": {"type": "text", "align": "left", "baseline": "alphabetic", "fontSize": 12, "fontStyle": "italic", "font": "Liberation Serif", "color": "#000000"},
          "encoding": {"text": {"field": "label"}}
        }
      ]
    }
  ]
}
